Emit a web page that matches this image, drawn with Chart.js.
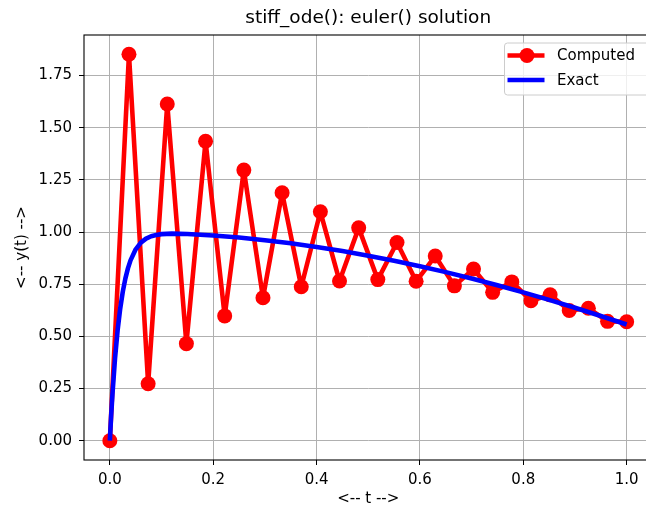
<!DOCTYPE html>
<html>
<head>
<meta charset="utf-8">
<script src="https://cdn.jsdelivr.net/npm/chart.js@4.4.1/dist/chart.umd.min.js"></script>
<style>
    html, body { margin: 0; padding: 0; background: #fff; }
    #wrap { width: 646px; height: 510px; overflow: hidden; }
</style>
</head>
<body>
<div id="wrap"><canvas id="chartCanvas" width="660" height="510"></canvas></div>
<script>
// Euler steps, h = 1/27
let tComputed = [0, 0.0370, 0.0741, 0.1111, 0.1481, 0.1852, 0.2222, 0.2593, 0.2963, 0.3333,
    0.3704, 0.4074, 0.4444, 0.4815, 0.5185, 0.5556, 0.5926, 0.6296, 0.6667, 0.7037,
    0.7407, 0.7778, 0.8148, 0.8519, 0.8889, 0.9259, 0.9630, 1.0];
let yComputed = [0, 1.852, 0.273, 1.614, 0.465, 1.435, 0.598, 1.297, 0.685, 1.188,
    0.738, 1.097, 0.765, 1.020, 0.772, 0.950, 0.764, 0.885, 0.742, 0.823,
    0.711, 0.761, 0.671, 0.699, 0.624, 0.635, 0.572, 0.570];

// exact solution samples
let tExact = [0, 0.0025, 0.005, 0.01, 0.015, 0.02, 0.025, 0.03, 0.035, 0.04, 0.05, 0.06, 0.07,
    0.08, 0.09, 0.1, 0.12, 0.15, 0.2, 0.25, 0.3, 0.35, 0.4, 0.45, 0.5, 0.55, 0.6,
    0.65, 0.7, 0.75, 0.8, 0.85, 0.9, 0.95, 1.0];
let yExact = [0, 0.1175, 0.2212, 0.3935, 0.5276, 0.6321, 0.7134, 0.7767, 0.8260, 0.8643, 0.9173, 0.9492, 0.9684,
    0.9797, 0.9862, 0.9899, 0.9923, 0.9908, 0.9836, 0.9735, 0.9609, 0.9459, 0.9285, 0.9088, 0.8868, 0.8626, 0.8363,
    0.8079, 0.7774, 0.7450, 0.7108, 0.6747, 0.6370, 0.5977, 0.5569];

let xTicks = [0, 0.2, 0.4, 0.6, 0.8, 1.0];
let yTicks = [0, 0.25, 0.5, 0.75, 1.0, 1.25, 1.5, 1.75];

let titleText = "stiff_ode(): euler() solution";
let FONT = "'DejaVu Sans', sans-serif";

function toPoints(xs, ys) {
    return xs.map(function (x, i) { return { x: x, y: ys[i] }; });
}

// frame, title and in-axes legend
let decorations = {
    id: 'decorations',
    afterDraw: function (chart) {
        let ctx = chart.ctx;
        let area = chart.chartArea;
        ctx.save();

        ctx.strokeStyle = '#000';
        ctx.lineWidth = 1.1;
        ctx.strokeRect(area.left, area.top, area.right - area.left, area.bottom - area.top);

        ctx.fillStyle = '#000';
        ctx.font = '18.5px ' + FONT;
        ctx.textAlign = 'center';
        ctx.textBaseline = 'middle';
        ctx.fillText(titleText, (area.left + area.right) / 2, 18);

        // legend box
        let bx = area.right - 148, by = area.top + 8, bw = 145, bh = 52;
        ctx.beginPath();
        ctx.roundRect(bx, by, bw, bh, 3);
        ctx.fillStyle = 'rgba(255,255,255,0.8)';
        ctx.fill();
        ctx.strokeStyle = '#cccccc';
        ctx.lineWidth = 1;
        ctx.stroke();

        let rows = chart.data.datasets.slice().sort(function (a, b) { return a.legendIndex - b.legendIndex; });
        rows.forEach(function (ds, i) {
            let y = by + 12.5 + i * 24.5;
            ctx.beginPath();
            ctx.moveTo(bx + 3, y);
            ctx.lineTo(bx + 40, y);
            ctx.strokeStyle = ds.borderColor;
            ctx.lineWidth = ds.borderWidth;
            ctx.stroke();
            if (ds.pointRadius > 0) {
                ctx.beginPath();
                ctx.arc(bx + 22.5, y, ds.pointRadius, 0, Math.PI * 2);
                ctx.fillStyle = ds.pointBackgroundColor;
                ctx.fill();
            }
            ctx.fillStyle = '#000';
            ctx.font = '15px ' + FONT;
            ctx.textAlign = 'left';
            ctx.fillText(ds.label, bx + 52.5, y + 1);
        });
        ctx.restore();
    }
};

let ctx = document.getElementById("chartCanvas").getContext("2d");

let chart = new Chart(ctx, {
    type: 'scatter',
    data: {
        datasets: [{
            label: 'Computed',
            legendIndex: 0,
            data: toPoints(tComputed, yComputed),
            showLine: true,
            borderColor: '#ff0000',
            borderWidth: 4.6,
            borderJoinStyle: 'round',
            pointRadius: 7.5,
            pointBackgroundColor: '#ff0000',
            pointBorderWidth: 0,
            order: 1
        }, {
            label: 'Exact',
            legendIndex: 1,
            data: toPoints(tExact, yExact),
            showLine: true,
            borderColor: '#0000ff',
            borderWidth: 4.6,
            borderJoinStyle: 'round',
            pointRadius: 0,
            order: 0
        }]
    },
    options: {
        responsive: false,
        animation: false,
        layout: { padding: { top: 35, right: 5, left: 0, bottom: 0 } },
        plugins: {
            legend: { display: false },
            tooltip: { enabled: false }
        },
        scales: {
            x: {
                type: 'linear',
                min: -0.05,
                max: 1.05,
                afterFit: function (scale) { scale.height = 50; },
                afterBuildTicks: function (scale) {
                    scale.ticks = xTicks.map(function (v) { return { value: v }; });
                },
                grid: { color: '#b0b0b0', lineWidth: 1, tickColor: '#000', tickLength: 5 },
                border: { display: false },
                ticks: {
                    color: '#000',
                    padding: 6,
                    font: { family: FONT, size: 15 },
                    maxRotation: 0,
                    callback: function (v) { return v.toFixed(1); }
                },
                title: {
                    display: true,
                    text: '<-- t -->',
                    color: '#000',
                    font: { family: FONT, size: 15 },
                    padding: { top: 0, bottom: 2 }
                }
            },
            y: {
                type: 'linear',
                min: -0.0926,
                max: 1.9444,
                afterFit: function (scale) { scale.width = 84; },
                afterBuildTicks: function (scale) {
                    scale.ticks = yTicks.map(function (v) { return { value: v }; });
                },
                grid: { color: '#b0b0b0', lineWidth: 1, tickColor: '#000', tickLength: 5 },
                border: { display: false },
                ticks: {
                    color: '#000',
                    padding: 7,
                    font: { family: FONT, size: 15 },
                    callback: function (v) { return v.toFixed(2); }
                },
                title: {
                    display: true,
                    text: '<-- y(t) -->',
                    color: '#000',
                    font: { family: FONT, size: 15 },
                    padding: { top: 13, bottom: 0 }
                }
            }
        }
    },
    plugins: [decorations]
});
</script>
</body>
</html>
